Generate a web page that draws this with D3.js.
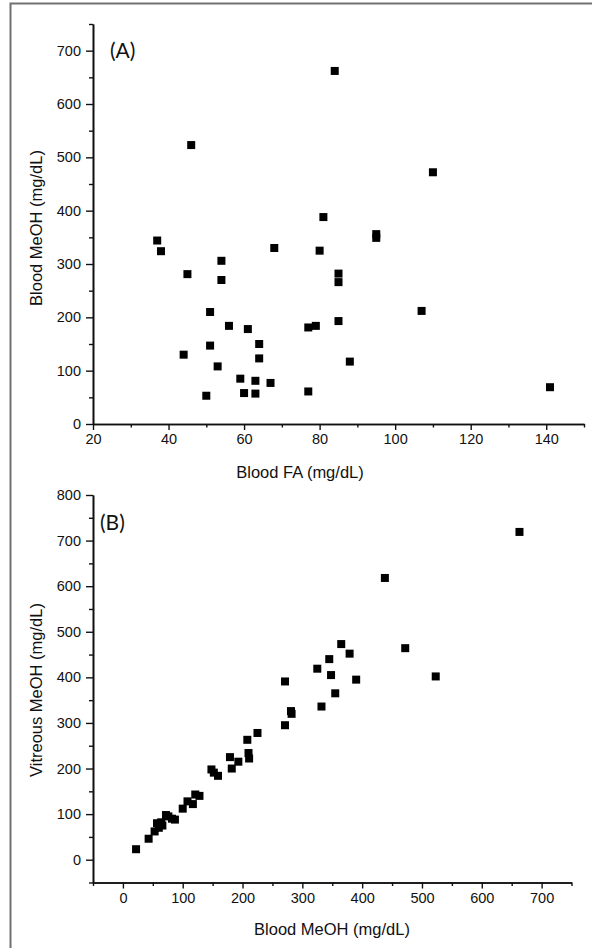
<!DOCTYPE html>
<html>
<head>
<meta charset="utf-8">
<script src="https://cdn.jsdelivr.net/npm/d3@7"></script>
<style>
  body { margin: 0; background: #fff; }
  text { font-family: "Liberation Sans", Arial, sans-serif; fill: #111; }
</style>
</head>
<body>
<div id="chart"></div>
<script>
// Panel A: blood formic acid vs blood methanol
const faX = [37, 38, 45, 46, 54, 54, 51, 56, 61, 51, 44, 64, 64, 53, 59, 63, 67, 60, 63, 50,
  68, 77, 79, 77, 80, 81, 84, 85, 85, 85, 88, 95, 95, 107, 110, 141];
const faY = [344, 324, 281, 523, 306, 270, 210, 184, 178, 147, 130, 150, 123, 108, 85, 81, 77, 58, 57, 53,
  330, 181, 184, 61, 325, 388, 662, 282, 266, 193, 117, 356, 349, 212, 472, 69];

// Panel B: blood methanol vs vitreous methanol
const bloodMeoh = [22, 43, 53, 57, 60, 64, 66, 72, 76, 82, 87, 100, 108, 117, 121, 128, 148, 152, 159,
  179, 182, 193, 210, 211, 208, 225, 271, 271, 281, 282, 332, 325, 345, 348, 355, 365, 379, 390, 438, 472, 523, 663];
const vitreousMeoh = [23, 46, 62, 80, 70, 82, 75, 98, 95, 90, 88, 112, 128, 122, 143, 140, 198, 191, 184,
  225, 200, 215, 234, 222, 263, 278, 391, 295, 326, 320, 336, 419, 440, 405, 365, 473, 452, 395, 618, 464, 402, 719];

const aXTicks = [20, 40, 60, 80, 100, 120, 140];
const aXMinor = [30, 50, 70, 90, 110, 130, 150];
const aYTicks = [0, 100, 200, 300, 400, 500, 600, 700];
const aYMinor = [50, 150, 250, 350, 450, 550, 650, 750];
const bXTicks = [0, 100, 200, 300, 400, 500, 600, 700];
const bXMinor = [-50, 50, 150, 250, 350, 450, 550, 650, 750];
const bYTicks = [0, 100, 200, 300, 400, 500, 600, 700, 800];
const bYMinor = [-50, 50, 150, 250, 350, 450, 550, 650, 750];

const svg = d3.select('#chart').append('svg')
  .attr('width', 592)
  .attr('height', 948);

// grey frame (only top and left edges show in the picture)
svg.append('path')
  .attr('d', 'M10.5,948 V3.5 H592')
  .attr('fill', 'none')
  .attr('stroke', '#707070')
  .attr('stroke-width', 2);

function drawPanel(cfg) {
  const x = d3.scaleLinear().domain(cfg.xDomain).range(cfg.xRange);
  const y = d3.scaleLinear().domain(cfg.yDomain).range(cfg.yRange);
  const g = svg.append('g');

  // minor ticks first, then the major axis on top
  g.append('g')
    .attr('transform', `translate(0,${cfg.yRange[0]})`)
    .call(d3.axisBottom(x).tickValues(cfg.xMinor).tickSize(3.5).tickSizeOuter(0).tickFormat(''));
  g.append('g')
    .attr('transform', `translate(${cfg.xRange[0]},0)`)
    .call(d3.axisLeft(y).tickValues(cfg.yMinor).tickSize(4).tickSizeOuter(0).tickFormat(''));

  const xAxis = g.append('g')
    .attr('transform', `translate(0,${cfg.yRange[0]})`)
    .call(d3.axisBottom(x).tickValues(cfg.xTicks).tickSize(6).tickSizeOuter(0).tickPadding(4));
  const yAxis = g.append('g')
    .attr('transform', `translate(${cfg.xRange[0]},0)`)
    .call(d3.axisLeft(y).tickValues(cfg.yTicks).tickSize(7).tickSizeOuter(0).tickPadding(5));

  g.selectAll('.domain').attr('stroke', '#111').attr('stroke-width', 1.6);
  g.selectAll('.tick line').attr('stroke', '#111').attr('stroke-width', 1.4);
  xAxis.selectAll('text').style('font-size', '14.5px').attr('fill', '#111');
  yAxis.selectAll('text').style('font-size', '14.5px').attr('fill', '#111');

  // square markers
  g.selectAll('rect.pt')
    .data(cfg.xs.map((v, i) => [v, cfg.ys[i]]))
    .enter()
    .append('rect')
    .attr('class', 'pt')
    .attr('x', d => x(d[0]) - 4)
    .attr('y', d => y(d[1]) - 4)
    .attr('width', 8)
    .attr('height', 8)
    .attr('fill', '#000');

  g.append('text')
    .attr('x', cfg.xTitlePos[0])
    .attr('y', cfg.xTitlePos[1])
    .attr('text-anchor', 'middle')
    .style('font-size', '16.5px')
    .text(cfg.xTitle);

  g.append('text')
    .attr('transform', `translate(${cfg.yTitlePos[0]},${cfg.yTitlePos[1]}) rotate(-90)`)
    .attr('text-anchor', 'middle')
    .style('font-size', '16.5px')
    .text(cfg.yTitle);

  g.append('text')
    .attr('x', cfg.tagPos[0])
    .attr('y', cfg.tagPos[1])
    .style('font-family', 'Lato, "Open Sans", sans-serif')
    .style('font-size', '21px')
    .text(cfg.tag);
}

drawPanel({
  xDomain: [20, 150], xRange: [93, 584],
  yDomain: [0, 750], yRange: [424, 24],
  xTicks: aXTicks, xMinor: aXMinor, yTicks: aYTicks, yMinor: aYMinor,
  xs: faX, ys: faY,
  xTitle: 'Blood FA (mg/dL)', xTitlePos: [300, 478],
  yTitle: 'Blood MeOH (mg/dL)', yTitlePos: [42, 228],
  tag: '(A)', tagPos: [110, 58]
});

drawPanel({
  xDomain: [-50, 750], xRange: [93, 571.5],
  yDomain: [-50, 800], yRange: [882.5, 495],
  xTicks: bXTicks, xMinor: bXMinor, yTicks: bYTicks, yMinor: bYMinor,
  xs: bloodMeoh, ys: vitreousMeoh,
  xTitle: 'Blood MeOH (mg/dL)', xTitlePos: [332, 935],
  yTitle: 'Vitreous MeOH (mg/dL)', yTitlePos: [42, 690],
  tag: '(B)', tagPos: [100, 530]
});
</script>
</body>
</html>
